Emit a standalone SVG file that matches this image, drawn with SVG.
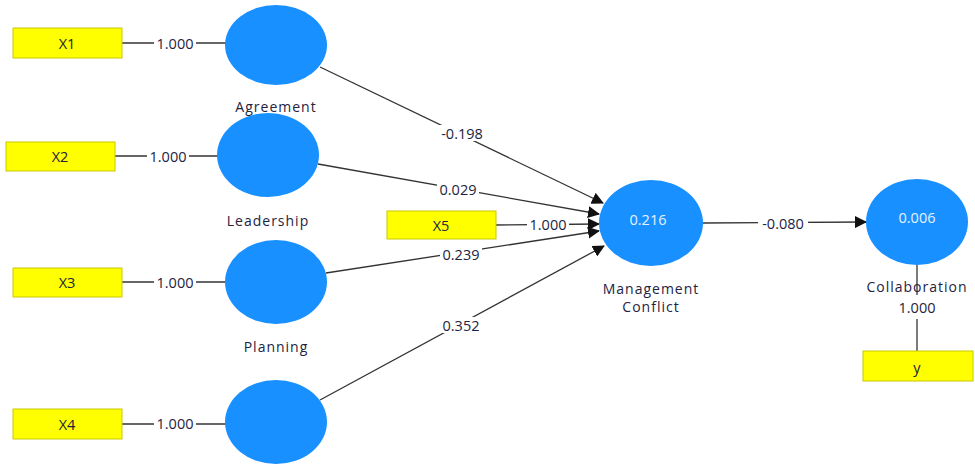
<svg xmlns="http://www.w3.org/2000/svg" width="975" height="464" viewBox="0 0 975 464">
<style>
.lat{fill:#1890ff;}
.ind{fill:#ffff00;stroke:#c8c800;stroke-width:1;}
.e{stroke:#333;stroke-width:1.3;fill:none;}
.t{font-family:"Open Sans","Noto Sans",sans-serif;font-size:14.5px;fill:#23233f;text-anchor:middle;dominant-baseline:central;}
.lbl{letter-spacing:1px;font-size:14px;}
.bg{fill:#fff;}
.in{fill:#e6f2ff;}
</style>
<defs>
<marker id="ah" markerWidth="12" markerHeight="12" refX="11" refY="6" orient="auto" markerUnits="userSpaceOnUse">
<path d="M0,0 L12,6 L0,12 Z" fill="#111"/>
</marker>
</defs>
<rect width="975" height="464" fill="#fff"/>
<g id="connectors">
<line class="e" x1="122" y1="43" x2="226" y2="43"/>
<line class="e" x1="115" y1="156" x2="218" y2="156"/>
<line class="e" x1="122" y1="282" x2="226" y2="282"/>
<line class="e" x1="122" y1="424" x2="226" y2="424"/>
<line class="e" x1="320" y1="67" x2="603" y2="203" marker-end="url(#ah)"/>
<line class="e" x1="318" y1="164" x2="599" y2="214" marker-end="url(#ah)"/>
<line class="e" x1="496" y1="225" x2="599" y2="224" marker-end="url(#ah)"/>
<line class="e" x1="326" y1="273" x2="599" y2="231" marker-end="url(#ah)"/>
<line class="e" x1="320" y1="400" x2="604" y2="246" marker-end="url(#ah)"/>
<line class="e" x1="703" y1="223" x2="866" y2="222" marker-end="url(#ah)"/>
<line class="e" x1="917" y1="265" x2="917" y2="295"/>
<line class="e" x1="917" y1="319" x2="917" y2="351"/>
<rect class="bg" x="154" y="35" width="42" height="16"/>
<rect class="bg" x="147" y="148" width="42" height="16"/>
<rect class="bg" x="154" y="274" width="42" height="16"/>
<rect class="bg" x="154" y="415" width="42" height="16"/>
<rect class="bg" x="527" y="216" width="42" height="16"/>
<rect class="bg" x="758" y="215" width="50" height="16"/>
<rect class="bg" x="436" y="125" width="52" height="16"/>
<rect class="bg" x="437" y="181" width="42" height="16"/>
<rect class="bg" x="440" y="246" width="42" height="16"/>
<rect class="bg" x="440" y="317" width="42" height="16"/>
<text class="t" x="175" y="43">1.000</text>
<text class="t" x="168" y="156">1.000</text>
<text class="t" x="175" y="282">1.000</text>
<text class="t" x="175" y="423">1.000</text>
<text class="t" x="462" y="133">-0.198</text>
<text class="t" x="458" y="189">0.029</text>
<text class="t" x="548" y="224">1.000</text>
<text class="t" x="461" y="254">0.239</text>
<text class="t" x="461" y="325">0.352</text>
<text class="t" x="783" y="223">-0.080</text>
<text class="t" x="917" y="307">1.000</text>
</g>
<g id="X1"><rect class="ind" x="13" y="28" width="109" height="30"/><text class="t" x="67" y="43">X1</text></g>
<g id="X2"><rect class="ind" x="6" y="142" width="109" height="29"/><text class="t" x="60" y="156">X2</text></g>
<g id="X3"><rect class="ind" x="13" y="268" width="109" height="29"/><text class="t" x="67" y="282">X3</text></g>
<g id="X4"><rect class="ind" x="13" y="409" width="109" height="30"/><text class="t" x="67" y="424">X4</text></g>
<g id="X5"><rect class="ind" x="387" y="211" width="109" height="28"/><text class="t" x="441" y="225">X5</text></g>
<g id="y"><rect class="ind" x="863" y="351" width="110" height="30"/><text class="t" x="917" y="367">y</text></g>
<g id="Agreement"><ellipse class="lat" cx="276" cy="45" rx="51" ry="40"/><text class="t lbl" x="276" y="106">Agreement</text></g>
<g id="Leadership"><ellipse class="lat" cx="268" cy="155" rx="51" ry="42"/><text class="t lbl" x="268" y="220">Leadership</text></g>
<g id="Planning"><ellipse class="lat" cx="276" cy="282" rx="51" ry="42"/><text class="t lbl" x="276" y="346">Planning</text></g>
<g id="Latent4"><ellipse class="lat" cx="276" cy="422" rx="51" ry="42"/></g>
<g id="ManagementConflict"><ellipse class="lat" cx="651" cy="223" rx="52" ry="43"/><text class="t in" x="648" y="219">0.216</text><text class="t lbl" x="651" y="288">Management</text><text class="t lbl" x="651" y="306">Conflict</text></g>
<g id="Collaboration"><ellipse class="lat" cx="917" cy="222" rx="51" ry="43"/><text class="t in" x="917" y="217">0.006</text><text class="t lbl" x="917" y="286">Collaboration</text></g>
</svg>
